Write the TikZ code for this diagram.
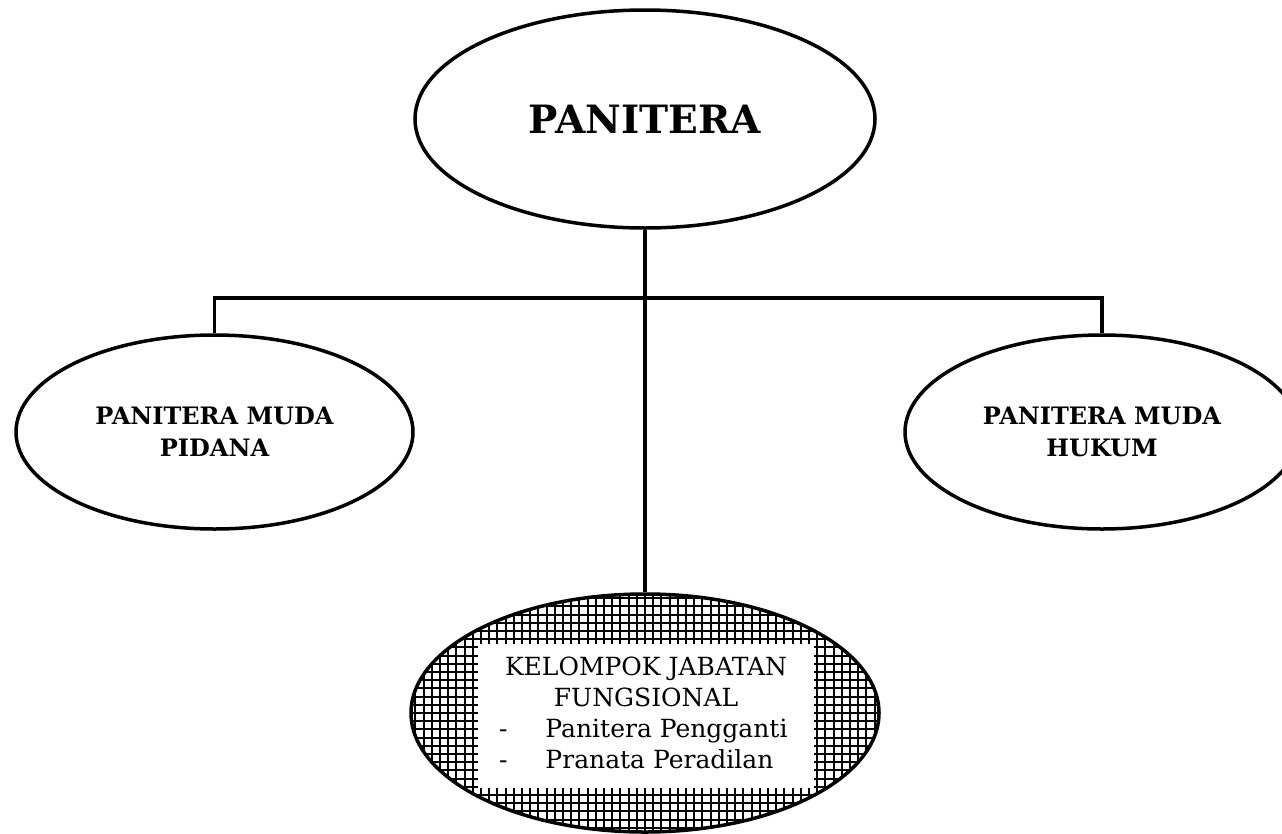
\documentclass[tikz,border=0pt]{standalone}
\usepackage{fontspec}
\setmainfont{DejaVu Serif}
\usetikzlibrary{shapes.geometric}
\begin{document}
\begin{tikzpicture}[x=1pt,y=-1pt,
  oval/.style={ellipse, draw, line width=3.5pt, fill=white, inner sep=0pt, align=center},
  conn/.style={line width=3.3pt, line join=miter},
  bigfont/.style={font=\bfseries\fontsize{39}{46}\selectfont},
  midfont/.style={font=\bfseries\fontsize{24}{32}\selectfont},
  gridline/.style={line width=2pt}]
\useasboundingbox (0,0) rectangle (1282,833);
\node[oval, bigfont, minimum width=460, minimum height=218] (pan) at (645,119) {PANITERA};
\node[oval, midfont, minimum width=397, minimum height=194] (pid) at (214.5,432) {PANITERA MUDA\\PIDANA};
\node[oval, midfont, minimum width=394, minimum height=194] (huk) at (1102,432) {PANITERA MUDA\\HUKUM};
\node[oval, minimum width=468, minimum height=238,
  path picture={
    \foreach \i in {-30,...,30} {
      \draw[gridline] (\i*8.2,-130) -- (\i*8.2,130);
    }
    \foreach \j in {-16,...,16} {
      \draw[gridline] (-245,\j*8.2) -- (245,\j*8.2);
    }
  }] (kel) at (645,713) {};
\node[fill=white, inner sep=0pt, minimum width=336, minimum height=144,
  font=\fontsize{25}{31}\selectfont] (box) at (646,716)
  {\begin{tabular}{@{}l@{\hspace{38pt}}l@{}}
   \multicolumn{2}{c}{KELOMPOK JABATAN}\\
   \multicolumn{2}{c}{FUNGSIONAL}\\
   - & Panitera Pengganti\\
   - & Pranata Peradilan
   \end{tabular}};
\draw[conn] (pan.south) -- (kel.north);
\coordinate (bar) at (645,298);
\draw[conn] (pid.north) |- (bar) -| (huk.north);
\end{tikzpicture}
\end{document}
